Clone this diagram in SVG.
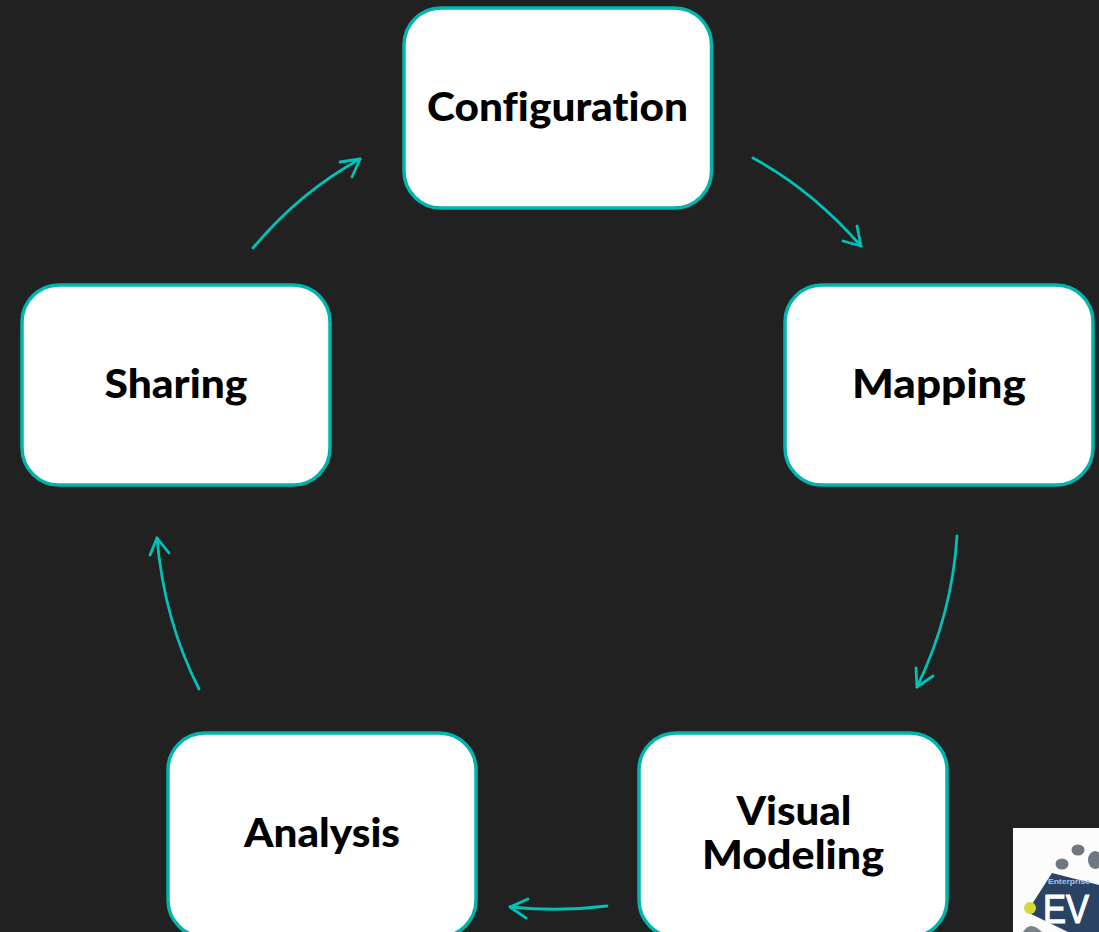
<svg xmlns="http://www.w3.org/2000/svg" width="1099" height="932" viewBox="0 0 1099 932">
<style>
.box{fill:#fff;stroke:#00b5ad;stroke-width:3.500}
.lbl{font-family:"Lato","Liberation Sans",sans-serif;font-weight:900;font-size:39px;fill:#000;text-anchor:middle;font-variant-ligatures:none}
.arr{fill:none;stroke:#00c2b8;stroke-width:2.800;stroke-linecap:round;stroke-linejoin:round}
</style>
<rect width="1099" height="932" fill="#212121"/>
<g id="connectors">
<path class="arr" d="M753 158Q812 190 861 246"/><path class="arr" d="M843 241L861 246L857 226"/>
<path class="arr" d="M957 536Q952 615 917 687"/><path class="arr" d="M916 668L917 687L933 676"/>
<path class="arr" d="M607 906Q560 912 510 907"/><path class="arr" d="M528 899L510 907L526 918"/>
<path class="arr" d="M199 689Q164 620 157 538"/><path class="arr" d="M150 555L157 538L169 553"/>
<path class="arr" d="M253 248Q300 192 360 159"/><path class="arr" d="M340 162L360 159L352 177"/>
</g>
<g id="configuration"><rect class="box" x="404" y="8" width="307.500" height="200" rx="37"/><text class="lbl" x="557.500" y="121" textLength="261" lengthAdjust="spacingAndGlyphs">Configuration</text></g>
<g id="mapping"><rect class="box" x="785" y="285" width="308" height="200" rx="37"/><text class="lbl" x="939" y="398" textLength="174" lengthAdjust="spacingAndGlyphs">Mapping</text></g>
<g id="visual-modeling"><rect class="box" x="639" y="733" width="308" height="204" rx="37"/><text class="lbl" x="794" y="825" textLength="115" lengthAdjust="spacingAndGlyphs">Visual</text><text class="lbl" x="793" y="869" textLength="182" lengthAdjust="spacingAndGlyphs">Modeling</text></g>
<g id="analysis"><rect class="box" x="168" y="733" width="308" height="204" rx="37"/><text class="lbl" x="322" y="847" textLength="156" lengthAdjust="spacingAndGlyphs">Analysis</text></g>
<g id="sharing"><rect class="box" x="22" y="285" width="308" height="200" rx="37"/><text class="lbl" x="176" y="398" textLength="143" lengthAdjust="spacingAndGlyphs">Sharing</text></g>
<g id="logo">
<rect x="1013" y="828" width="86" height="104" fill="#fbfcfb"/>
<ellipse cx="1078" cy="850" rx="6.500" ry="5.500" fill="#6f7782"/>
<ellipse cx="1062" cy="864" rx="6.500" ry="5.500" fill="#6f7782"/>
<ellipse cx="1095" cy="860" rx="7" ry="9" fill="#6f7782"/>
<path d="M1052 873L1099 885V932H1068L1027 912Z" fill="#2a4263"/>
<circle cx="1030" cy="908" r="6" fill="#d4d93a"/>
<path d="M1023 932Q1030 920 1042 932Z" fill="#7a818a"/>
<text x="1048" y="884" font-family="'Liberation Sans',sans-serif" font-size="8px" font-weight="700" fill="#a9c6ec" textLength="42" lengthAdjust="spacingAndGlyphs">Enterprise</text>
<text x="1043" y="923" font-family="'Liberation Sans',sans-serif" font-size="40px" fill="#fff" stroke="#fff" stroke-width="1.200" textLength="46" lengthAdjust="spacingAndGlyphs">EV</text>
</g>
</svg>
